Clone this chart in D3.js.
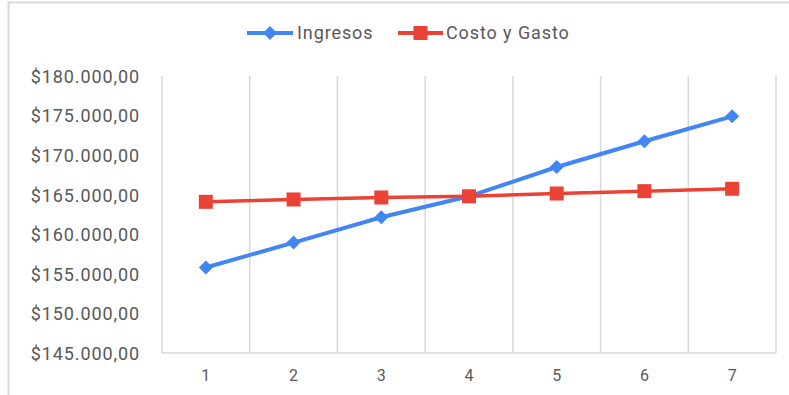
<!DOCTYPE html>
<html><head><meta charset="utf-8">
<script src="https://cdn.jsdelivr.net/npm/d3@7/dist/d3.min.js"></script>
<style>html,body{margin:0;padding:0;background:#fff;}svg{display:block;}</style>
</head><body>
<svg id="c" width="789" height="395"></svg>
<script>
const categories = ["1","2","3","4","5","6","7"];
const ingresos = [155800, 158950, 162150, 164800, 168500, 171750, 174900];
const costoGasto = [164100, 164400, 164650, 164800, 165150, 165450, 165750];
const yTicks = [145000,150000,155000,160000,165000,170000,175000,180000];
const seriesNames = ["Ingresos","Costo y Gasto"];
const colors = ["#4285F4","#EA4335"];

(function(){
const svg = d3.select("#c");
const font = "Roboto, 'Liberation Sans', sans-serif";
const textColor = "#595959";
const gridColor = "#d9d9d9";
const ls = "0.9px";

// outer frame
svg.append("path").attr("d","M8.5,395 V2.5 H789").attr("fill","none").attr("stroke",gridColor).attr("stroke-width",2);

const pL=162, pR=776, pT=76, pB=353;
const x = d3.scaleBand().domain(categories).range([pL,pR]).padding(0);
const y = d3.scaleLinear().domain([145000,180000]).range([pB,pT]);

// vertical gridlines at band edges
const edges = categories.map(c=>x(c)).concat([pR]);
svg.append("g").selectAll("line").data(edges).join("line")
  .attr("x1",d=>d).attr("x2",d=>d).attr("y1",pT).attr("y2",pB)
  .attr("stroke",gridColor).attr("stroke-width",1.5);
svg.append("line").attr("x1",pL).attr("x2",pR).attr("y1",pB).attr("y2",pB)
  .attr("stroke",gridColor).attr("stroke-width",1.5);

// y labels
const fmt = v => "$" + d3.format(",.2f")(v).replace(/,/g,"#").replace(/\./g,",").replace(/#/g,".");
const yAxis = d3.axisLeft(y).tickValues(yTicks).tickFormat(fmt).tickSize(0).tickPadding(0);
const ga = svg.append("g").attr("transform","translate(140,0)").call(yAxis);
ga.select(".domain").remove();
ga.selectAll("text").attr("font-family",font).attr("font-size",18).attr("fill",textColor).attr("dy","0.35em").attr("letter-spacing",ls);

// x labels
const xAxis = d3.axisBottom(x).tickSize(0).tickPadding(0);
const gx = svg.append("g").attr("transform",`translate(0,${pB+22})`).call(xAxis);
gx.select(".domain").remove();
gx.selectAll("text").attr("font-family",font).attr("font-size",16).attr("fill",textColor).attr("dy","0.35em");

const cx = c => x(c) + x.bandwidth()/2;
const line = d3.line().x((d,i)=>cx(categories[i])).y(d=>y(d));

// series: Ingresos first, Costo y Gasto drawn on top
svg.append("path").datum(ingresos).attr("d",line).attr("fill","none").attr("stroke",colors[0]).attr("stroke-width",4);
const dm = 7;
svg.append("g").selectAll("path").data(ingresos).join("path")
  .attr("d",(d,i)=>{const px=cx(categories[i]),py=y(d);return `M${px},${py-dm}L${px+dm},${py}L${px},${py+dm}L${px-dm},${py}Z`;})
  .attr("fill",colors[0]);

svg.append("path").datum(costoGasto).attr("d",line).attr("fill","none").attr("stroke",colors[1]).attr("stroke-width",3.5);
const sq = 14;
svg.append("g").selectAll("rect").data(costoGasto).join("rect")
  .attr("x",(d,i)=>cx(categories[i])-sq/2).attr("y",d=>y(d)-sq/2)
  .attr("width",sq).attr("height",sq).attr("fill",colors[1]);

// legend
const legY = 33;
const leg = [{x0:247,x1:293,tx:297},{x0:398,x1:443,tx:446}];
seriesNames.forEach((n,i)=>{
  const L = leg[i];
  svg.append("line").attr("x1",L.x0).attr("x2",L.x1).attr("y1",legY).attr("y2",legY).attr("stroke",colors[i]).attr("stroke-width",4);
  const m=(L.x0+L.x1)/2;
  if(i===0){svg.append("path").attr("d",`M${m},${legY-7}L${m+7},${legY}L${m},${legY+7}L${m-7},${legY}Z`).attr("fill",colors[0]);}
  else {svg.append("rect").attr("x",m-7).attr("y",legY-7).attr("width",14).attr("height",14).attr("fill",colors[1]);}
  svg.append("text").attr("x",L.tx).attr("y",legY).attr("dy","0.35em").attr("font-family",font).attr("font-size",18).attr("fill",textColor).attr("letter-spacing",ls).text(n);
});
})();
</script>
</body></html>
